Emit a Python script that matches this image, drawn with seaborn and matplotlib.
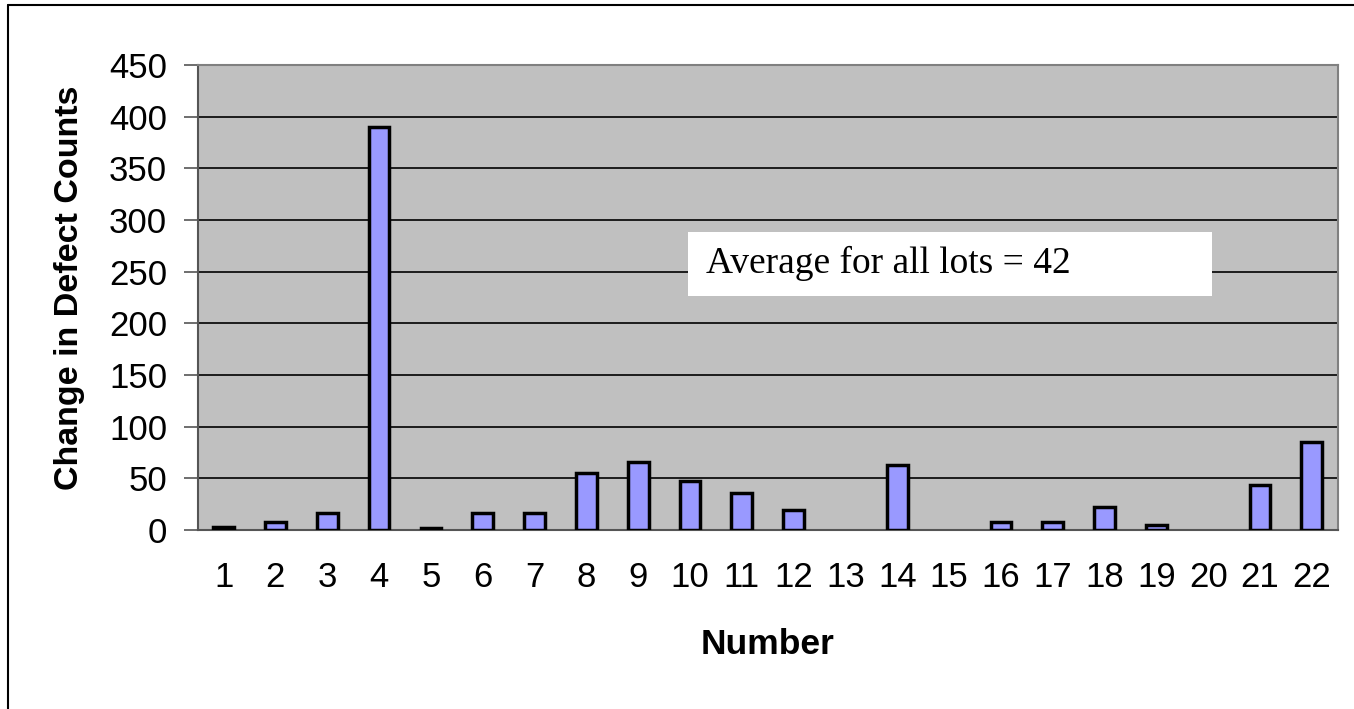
import numpy as np
import pandas as pd
import matplotlib
matplotlib.use("Agg")
import matplotlib.pyplot as plt
import seaborn as sns
from matplotlib.ticker import MultipleLocator, FixedLocator
from matplotlib.patches import Rectangle

# lot numbers and change in defect counts
lots = [str(i) for i in range(1, 23)]
changes = [3, 8, 16, 390, 2, 16, 16, 55, 66, 47, 36, 19, 0, 63, 0, 8, 8, 22, 5, 0, 44, 85]
note = "Average for all lots = 42"

data = pd.DataFrame({"Number": lots, "Change": changes})

sns.set_style("white", {"text.color": "black", "axes.labelcolor": "black",
                        "xtick.color": "black", "ytick.color": "black"})
plt.rcParams['font.family'] = ['Liberation Sans', 'DejaVu Sans']

fig = plt.figure(figsize=(13.54, 7.09), dpi=100)
ax = fig.add_axes([0.146, 0.2525, 0.842, 0.656])
ax.set_facecolor("#C0C0C0")

sns.barplot(data=data, x="Number", y="Change", color="#9999FF", width=0.4,
            edgecolor="black", linewidth=2.5, saturation=1, ax=ax, zorder=3)

# zero-height bars show nothing in the original
for p in ax.patches:
    if p.get_height() == 0:
        p.set_linewidth(0)

ax.set_ylim(0, 450)
ax.set_xlim(-0.5, len(lots) - 0.5)
ax.yaxis.set_major_locator(MultipleLocator(50))
ax.grid(axis="y", color="black", linewidth=1.2, zorder=0)
ax.set_axisbelow(True)

# tick marks between categories, labels at the centres
ax.xaxis.set_minor_locator(FixedLocator(np.arange(-0.5, len(lots), 1)))
ax.tick_params(axis="x", which="major", length=0, labelsize=25, pad=22, labelcolor="black")
ax.tick_params(axis="x", which="minor", length=11, width=1.2, color="#555555", direction="out")
ax.tick_params(axis="y", length=10, width=1.2, color="#555555", labelsize=25, pad=12,
               left=True, labelcolor="black")

for side in ["top", "right"]:
    ax.spines[side].set_color("#808080")
    ax.spines[side].set_linewidth(1.5)
for side in ["left", "bottom"]:
    ax.spines[side].set_color("#555555")
    ax.spines[side].set_linewidth(1.5)

ax.set_xlabel("Number", fontsize=25.5, fontweight="bold", color="black")
ax.set_ylabel("Change in Defect Counts", fontsize=24.5, fontweight="bold", color="black")
ax.xaxis.set_label_coords(0.5, -0.211)
ax.yaxis.set_label_coords(-0.099, 0.52)

# note box
ax.add_patch(Rectangle((0.43, 0.503), 0.46, 0.138, transform=ax.transAxes,
                       facecolor="white", edgecolor="none", zorder=5))
ax.text(0.4456, 0.573, note, transform=ax.transAxes, fontsize=27, color="black",
        family=["Liberation Serif", "DejaVu Serif"], va="center", ha="left", zorder=6)

# chart border, left and top edges
fig.add_artist(plt.Line2D([8 / 1354, 8 / 1354], [0, 1 - 5 / 709], color="black", linewidth=1.5))
fig.add_artist(plt.Line2D([8 / 1354, 1], [1 - 5 / 709, 1 - 5 / 709], color="black", linewidth=1.5))

fig.savefig("out.png", dpi=100)
